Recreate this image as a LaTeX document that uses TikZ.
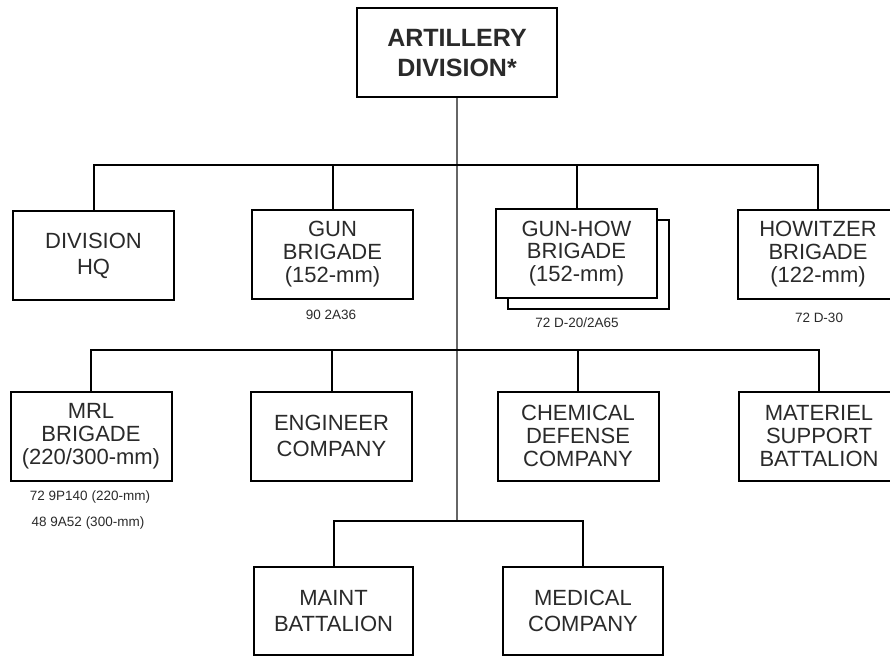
\documentclass[tikz,border=0pt]{standalone}
\usepackage{fontspec}
\setmainfont{Liberation Sans}
\definecolor{txt}{HTML}{2A2A2A}
\definecolor{trunkc}{HTML}{666666}
\begin{document}
\begin{tikzpicture}[x=1pt,y=-1pt,
  unit/.style={draw=black,line width=2pt,fill=white,minimum width=161pt,minimum height=89pt,
    align=center,text=txt,inner sep=0pt,font=\fontsize{22}{22.8}\selectfont},
  twoline/.style={unit,font=\fontsize{22}{26}\selectfont},
  small/.style={text=txt,inner sep=0pt,font=\fontsize{13.5}{14}\selectfont},
  conn/.style={line width=2pt,line join=miter},
  trunk/.style={line width=1.4pt,draw=trunkc}]
\useasboundingbox (0,0) rectangle (890,655);
\coordinate (bus1) at (457,165);
\coordinate (bus2) at (457,350);
\coordinate (bus3) at (457,521);
% top
\node[unit,minimum width=200pt,minimum height=89pt,font=\bfseries\fontsize{25}{30}\selectfont] (top) at (457,53) {ARTILLERY\\DIVISION*};
% trunk
\draw[trunk] (top.south) -- (bus3);
% row 1
\node[twoline] (hq) at (93.5,255.5) {DIVISION\\HQ};
\node[unit] (gun) at (332.5,254) {GUN\\BRIGADE\\(152-mm)};
\node[unit] (gh2) at (588.5,264.5) {};
\node[unit] (gh) at (576.5,253.5) {GUN-HOW\\BRIGADE\\(152-mm)};
\node[unit] (how) at (818,254) {HOWITZER\\BRIGADE\\(122-mm)};
\draw[conn] (hq.north) -- (hq.north |- bus1) -- (how.north |- bus1) -- (how.north);
\draw[conn] (gun.north) -- (gun.north |- bus1);
\draw[conn] (gh.north) -- (gh.north |- bus1);
\node[small] (lgun) at (331,315) {90 2A36};
\node[small] (lgh) at (577,323) {72 D-20/2A65};
\node[small] (lhow) at (819,318) {72 D-30};
% row 2
\node[unit] (mrl) at (91,436) {MRL\\BRIGADE\\(220/300-mm)};
\node[twoline] (eng) at (331.5,436) {ENGINEER\\COMPANY};
\node[unit] (chem) at (578,436) {CHEMICAL\\DEFENSE\\COMPANY};
\node[unit] (mat) at (819,436) {MATERIEL\\SUPPORT\\BATTALION};
\draw[conn] (mrl.north) -- (mrl.north |- bus2) -- (mat.north |- bus2) -- (mat.north);
\draw[conn] (eng.north) -- (eng.north |- bus2);
\draw[conn] (chem.north) -- (chem.north |- bus2);
\node[small] (lmrl1) at (90,497) {72 9P140 (220-mm)};
\node[small] (lmrl2) at (88,523) {48 9A52 (300-mm)};
% row 3
\node[twoline,minimum width=159pt,minimum height=88pt] (maint) at (333.5,611) {MAINT\\BATTALION};
\node[twoline,minimum width=160pt,minimum height=88pt] (med) at (583,611) {MEDICAL\\COMPANY};
\draw[conn] (maint.north) -- (maint.north |- bus3) -- (med.north |- bus3) -- (med.north);
\end{tikzpicture}
\end{document}
